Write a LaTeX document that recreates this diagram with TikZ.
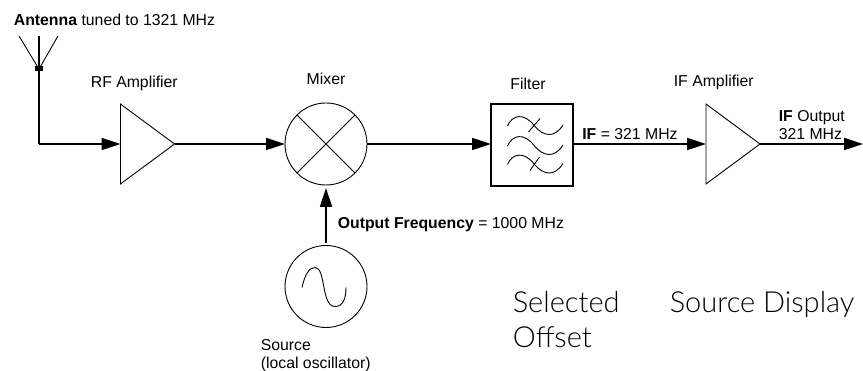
\documentclass[tikz,border=0pt]{standalone}
\usepackage{fontspec}
\setmainfont{Liberation Sans}
\newfontfamily\lightfont{Lato Light}
\usetikzlibrary{calc, arrows.meta, positioning, shapes.geometric}

\begin{document}
\begin{tikzpicture}[x=1pt, y=-1pt, >={Stealth[length=19pt,width=12pt,inset=0pt]}, line width=1.7pt]
      \tikzstyle{ampNode} = [isosceles triangle, isosceles triangle apex angle=73.0, draw=black, line width=0.9pt, minimum height=54pt, inner sep=0pt, outer sep=0pt, anchor=west]
      \tikzstyle{roundNode} = [circle, draw=black, line width=0.9pt, minimum size=82pt, inner sep=0pt, outer sep=0pt]
      \tikzstyle{filterNode} = [rectangle, draw=black, line width=1.6pt, minimum size=82pt, inner sep=0pt, outer sep=0pt]
      \tikzstyle{feedNode} = [rectangle, draw=none, fill=black, minimum width=8pt, minimum height=5pt, inner sep=0pt]
      \tikzstyle{thinLine} = [draw=black, line width=0.9pt]
      \tikzstyle{nameText} = [font=\fontsize{15.8}{18.5}\selectfont, inner sep=0pt, align=left]
      \tikzstyle{bigText} = [font=\lightfont\fontsize{29}{35}\selectfont, text=black, inner sep=0pt, align=left]
      \useasboundingbox (0,0) rectangle (863,371);

      % blocks
      \node [roundNode] at (326,144) (mixer) {};
      \node [roundNode, below=60.5pt of mixer] (source) {};
      \node [filterNode] at (532,145) (filter) {};
      \node [ampNode] at (120.5,144) (rfAmp) {};
      \node [ampNode] at (706,144) (ifAmp) {};

      % antenna
      \coordinate (tip) at (39,36);
      \coordinate (armLeft) at (19,36);
      \coordinate (armRight) at (58,36);
      \coordinate (corner) at (39,144);
      \coordinate (out) at (863,144);
      \node [feedNode] at (39,69) (feed) {};
      \draw [thinLine] (feed.center) -- (armLeft);
      \draw [thinLine] (feed.center) -- (armRight);
      \draw (tip) -- (feed.center) -- (corner);

      \draw [->] (corner) -- (rfAmp.west);
      \draw [->] (rfAmp.east) -- (mixer.west);
      \draw [->] (mixer.east) -- (mixer.east -| filter.west);
      \draw [->] (ifAmp.west -| filter.east) -- (ifAmp.west);
      \draw [->] (ifAmp.east) -- (out);
      \draw [->, shorten >=3pt, shorten <=2.5pt] (source.north) -- (mixer.south);

      \draw [thinLine] (mixer.45) -- (mixer.225);
      \draw [thinLine] (mixer.135) -- (mixer.315);

      % filter and source curves
      \foreach \dy in {-20,0,18.5} {
        \draw [thinLine] ($(filter.center)+(-24.5,\dy+1)$) .. controls ($(filter.center)+(-20,\dy-10)$) and ($(filter.center)+(-8,\dy-13)$) .. ($(filter.center)+(2.5,\dy+1)$) .. controls ($(filter.center)+(11,\dy+11)$) and ($(filter.center)+(22,\dy+14)$) .. ($(filter.center)+(31,\dy)$);
      }
      \draw [thinLine] ($(filter.center)+(-3.5,-13)$) -- ($(filter.center)+(8,-26.5)$);
      \draw [thinLine] ($(filter.center)+(-2,25.5)$) -- ($(filter.center)+(7.5,12)$);
      \draw [thinLine] ($(source.center)+(-24,1)$) .. controls ($(source.center)+(-21,-12)$) and ($(source.center)+(-17,-19)$) .. ($(source.center)+(-11,-19)$) .. controls ($(source.center)+(0,-19)$) and ($(source.center)+(-5,20)$) .. ($(source.center)+(9,20)$) .. controls ($(source.center)+(17,20)$) and ($(source.center)+(20,12)$) .. ($(source.center)+(20,1)$);

      % labels
      \node [nameText, anchor=west] at (13,19.5) (antennaText) {\textbf{Antenna} tuned to 1321 MHz};
      \node [nameText, anchor=west] at (90,83) (rfText) {RF Amplifier};
      \node [nameText] at (326,79) (mixerText) {Mixer};
      \node [nameText] at (528,84) (filterText) {Filter};
      \node [nameText, anchor=west] at (673,82) (ifText) {IF Amplifier};
      \node [nameText, anchor=west] at (581.5,134) (ifValue) {\textbf{IF} = 321 MHz};
      \node [nameText, anchor=west] at (778,125) (ifOutput) {\textbf{IF} Output\\321 MHz};
      \node [nameText, anchor=west] at (337,225) (freqText) {\textbf{Output Frequency} = 1000 MHz};
      \node [nameText, anchor=west] at (260,355.5) (sourceText) {Source\\(local oscillator)};
      \node [bigText, anchor=west] at (512,320) (selectedText) {Selected\\Offset};
      \node [bigText, anchor=west] at (669,305) (displayText) {Source Display};
    \end{tikzpicture}
\end{document}
